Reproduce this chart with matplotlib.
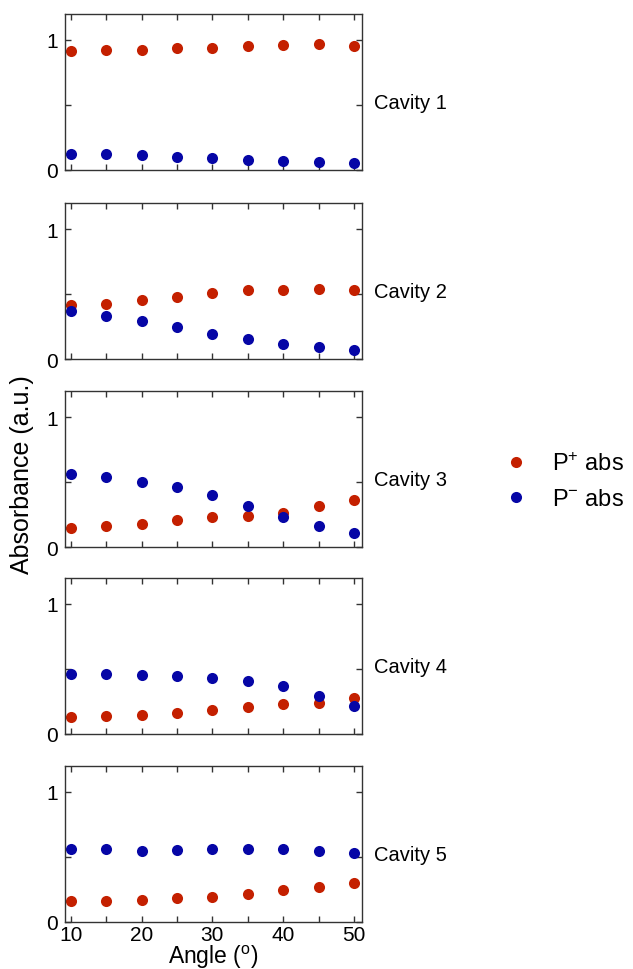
import numpy as np
import matplotlib.pyplot as plt

plt.rcParams['font.family'] = ['Liberation Sans', 'DejaVu Sans']
plt.rcParams['mathtext.default'] = 'regular'

angles = [10, 15, 20, 25, 30, 35, 40, 45, 50]
cavities = ['Cavity 1', 'Cavity 2', 'Cavity 3', 'Cavity 4', 'Cavity 5']

p_plus = [
    [0.915, 0.920, 0.926, 0.936, 0.941, 0.956, 0.964, 0.969, 0.956],
    [0.418, 0.426, 0.452, 0.480, 0.508, 0.528, 0.533, 0.536, 0.531],
    [0.149, 0.162, 0.180, 0.204, 0.227, 0.240, 0.263, 0.314, 0.361],
    [0.129, 0.139, 0.149, 0.165, 0.188, 0.211, 0.232, 0.242, 0.278],
    [0.158, 0.163, 0.171, 0.181, 0.194, 0.217, 0.243, 0.271, 0.302],
]
p_minus = [
    [0.126, 0.120, 0.113, 0.103, 0.092, 0.079, 0.072, 0.064, 0.056],
    [0.367, 0.334, 0.291, 0.245, 0.194, 0.153, 0.117, 0.092, 0.069],
    [0.562, 0.539, 0.503, 0.464, 0.402, 0.317, 0.229, 0.160, 0.106],
    [0.464, 0.461, 0.456, 0.446, 0.433, 0.410, 0.366, 0.294, 0.214],
    [0.563, 0.558, 0.550, 0.553, 0.558, 0.558, 0.563, 0.550, 0.532],
]

red = '#c42000'
blue = '#0606a6'

fig = plt.figure(figsize=(6.33, 9.70), dpi=100)
W, H = 633, 970
left, right = 65, 362
tops = [15, 204, 392, 579, 767]
ph = 156

axes = []
for i in range(5):
    ax = fig.add_axes([left / W, 1 - (tops[i] + ph) / H, (right - left) / W, ph / H])
    ax.plot(angles, p_plus[i], 'o', color=red, ms=8, mec='none', label='P$^{+}$ abs')
    ax.plot(angles, p_minus[i], 'o', color=blue, ms=8, mec='none', label='P$^{-}$ abs')
    ax.set_xlim(9.2, 51.1)
    ax.set_ylim(0, 1.2)
    ax.set_xticks(range(10, 55, 5))
    ax.set_yticks([0, 0.5, 1])
    ax.set_yticklabels(['0', '', '1'])
    if i == 4:
        ax.set_xticklabels(['10', '', '20', '', '30', '', '40', '', '50'])
    else:
        ax.set_xticklabels([])
    ax.tick_params(direction='in', top=True, right=True, length=4, width=1,
                   color='#333333', labelsize=15)
    ax.tick_params(axis='x', pad=2.5)
    ax.tick_params(axis='y', pad=5)
    for s in ax.spines.values():
        s.set_linewidth(1)
        s.set_color('#333333')
    ax.text(1.04, 0.43, cavities[i], transform=ax.transAxes, fontsize=14.5,
            ha='left', va='center')
    axes.append(ax)

fig.text((left + right) / 2 / W, 1 - 964 / H, 'Angle ($^o$)', fontsize=16.5,
         ha='center', va='baseline')
fig.text(22 / W, 1 - 475 / H, 'Absorbance (a.u.)', rotation=90, fontsize=18,
         ha='center', va='center')

h, l = axes[0].get_legend_handles_labels()
fig.legend(h, l, loc='center left', bbox_to_anchor=(477 / W, 1 - 482 / H),
           frameon=False, fontsize=17, handletextpad=0.78, labelspacing=0.55,
           handlelength=1.5)

fig.savefig('out.png', dpi=100)
